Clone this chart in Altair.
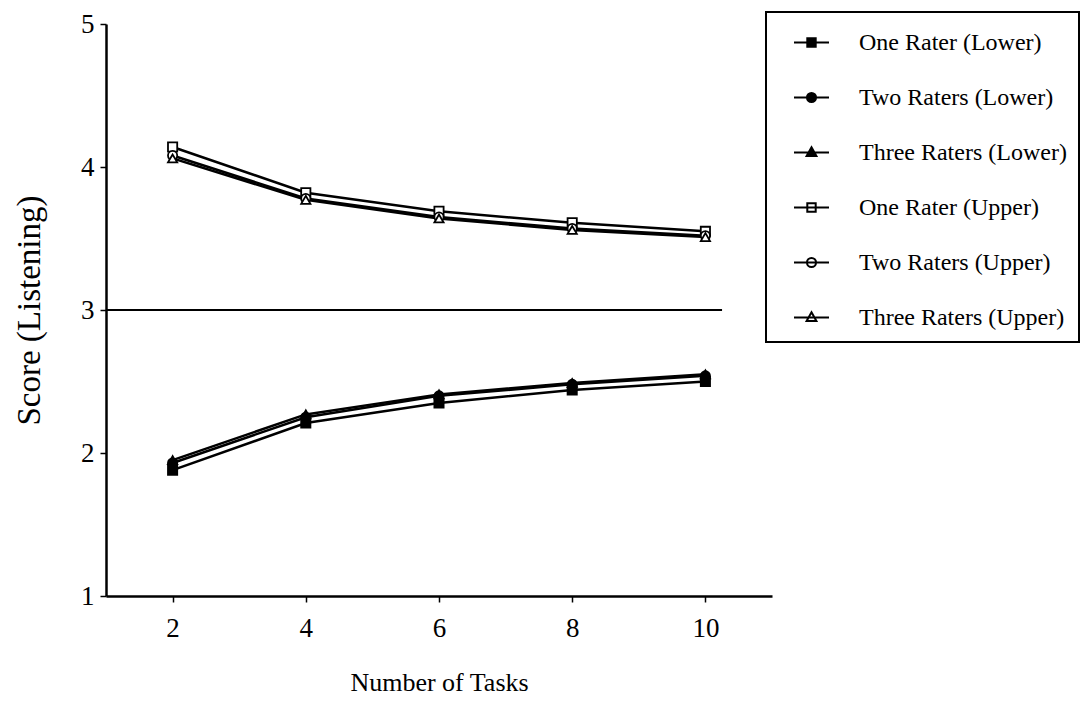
import altair as alt
import pandas as pd

tasks = [2, 4, 6, 8, 10]
series_names = [
    "One Rater (Lower)",
    "Two Raters (Lower)",
    "Three Raters (Lower)",
    "One Rater (Upper)",
    "Two Raters (Upper)",
    "Three Raters (Upper)",
]
one_lower = [1.88, 2.21, 2.35, 2.44, 2.50]
two_lower = [1.93, 2.25, 2.40, 2.48, 2.54]
three_lower = [1.95, 2.27, 2.41, 2.49, 2.55]
one_upper = [4.14, 3.82, 3.69, 3.61, 3.55]
two_upper = [4.08, 3.78, 3.65, 3.57, 3.52]
three_upper = [4.06, 3.77, 3.64, 3.56, 3.51]
all_values = [one_lower, two_lower, three_lower, one_upper, two_upper, three_upper]
marker_kind = ["square", "circle", "triangle-up", "square", "circle", "triangle-up"]

ref_score = [3]
ref_x_start = [1]
ref_x_end = [10.25]

rows = []
for name, kind, vals in zip(series_names, marker_kind, all_values):
    for t, v in zip(tasks, vals):
        rows.append({"series": name, "kind": kind, "tasks": t, "score": v})
df = pd.DataFrame(rows)
ref_df = pd.DataFrame({"x": ref_x_start, "x2": ref_x_end, "y": ref_score})

FONT = "Liberation Serif"

x_enc = alt.X(
    "tasks:Q",
    scale=alt.Scale(domain=[1, 11], nice=False, zero=False),
    axis=alt.Axis(values=tasks, format="d", title="Number of Tasks", grid=False),
)
y_enc = alt.Y(
    "score:Q",
    scale=alt.Scale(domain=[1, 5], nice=False, zero=False),
    axis=alt.Axis(values=[1, 2, 3, 4, 5], format="d", title="Score (Listening)", grid=False),
)

base = alt.Chart(df)

lines = base.mark_line(color="black", strokeWidth=2.5).encode(
    x=x_enc, y=y_enc, detail="series:N"
)

fill_cond = alt.condition(
    "indexof(datum.series, 'Lower') >= 0", alt.value("black"), alt.value("white")
)

point_layers = []
for kind in ["square", "circle", "triangle-up"]:
    point_layers.append(
        base.transform_filter(alt.datum.kind == kind)
        .mark_point(shape=kind, size=85, stroke="black", strokeWidth=1.8, opacity=1)
        .encode(x=x_enc, y=y_enc, fill=fill_cond)
    )

sq = "M-1,0H1M-0.24,-0.24H0.24V0.24H-0.24Z"
ci = "M-1,0H1M0.26,0A0.26,0.26,0,1,1,-0.26,0A0.26,0.26,0,1,1,0.26,0Z"
tr = "M-1,0H1M0,-0.3L0.28,0.2H-0.28Z"
legend_paths = [sq, ci, tr, sq, ci, tr]
marker_fills = ["black"] * 3 + ["white"] * 3

leg_cfg = dict(
    title=None,
    orient="none",
    legendX=660,
    legendY=-12,
    symbolSize=1225,
    symbolStrokeColor="black",
    symbolStrokeWidth=2,
    symbolOffset=15,
    labelOffset=29,
    labelFont=FONT,
    labelFontSize=24,
    labelColor="black",
    rowPadding=24,
    padding=12,
    strokeColor="black",
    fillColor="white",
    labelLimit=400,
)

legend_layer = base.transform_filter("datum.tasks > 100").mark_point(
    strokeWidth=2, opacity=1
).encode(
    x=x_enc,
    y=y_enc,
    shape=alt.Shape("series:N", scale=alt.Scale(domain=series_names, range=legend_paths), legend=alt.Legend(**leg_cfg)),
    fill=alt.Fill("series:N", scale=alt.Scale(domain=series_names, range=marker_fills), legend=alt.Legend(**leg_cfg)),
    stroke=alt.Stroke("series:N", scale=alt.Scale(domain=series_names, range=["black"] * 6), legend=alt.Legend(**leg_cfg)),
)

ref_line = alt.Chart(ref_df).mark_rule(color="black", strokeWidth=2).encode(
    x="x:Q", x2="x2:Q", y="y:Q"
)

chart = (
    alt.layer(ref_line, lines, *point_layers, legend_layer)
    .properties(
        width=666,
        height=572,
        autosize=alt.AutoSizeParams(type="none"),
        padding={"left": 106, "top": 24, "right": 312, "bottom": 106},
        background="white",
    )
    .configure_view(stroke=None)
    .configure_axis(
        domainColor="black",
        domainWidth=2.5,
        tickColor="black",
        tickWidth=1.5,
        tickSize=6,
        labelFont=FONT,
        labelFontSize=27,
        labelColor="black",
        titleFont=FONT,
        titleFontSize=26,
        titleFontWeight="normal",
        titleColor="black",
    )
    .configure_axisX(labelPadding=13, titlePadding=28)
    .configure_axisY(labelPadding=6, titlePadding=34, titleFontSize=33)
    .configure_legend(strokeWidth=2)
)

chart.save("out.html", embed_options={"renderer": "svg", "actions": False})
